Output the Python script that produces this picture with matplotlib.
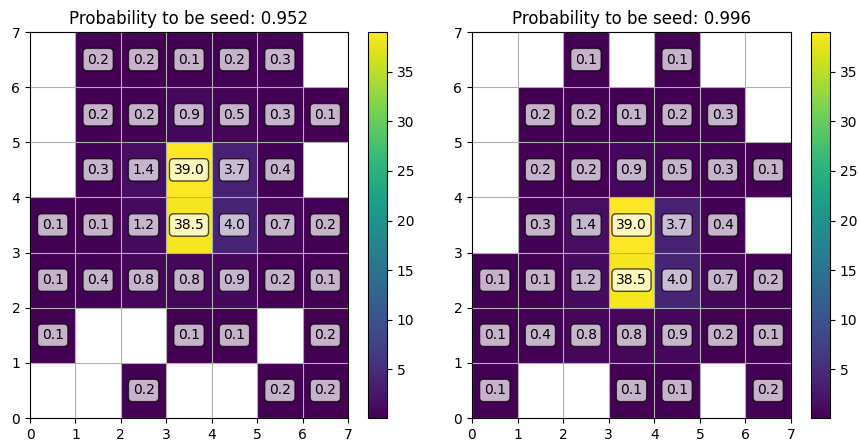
import numpy as np
import matplotlib
matplotlib.use("Agg")
import matplotlib.pyplot as plt

nan = np.nan
# rows listed from top (y=6..7) down to bottom (y=0..1)
left_vals = [
    [nan, 0.2, 0.2, 0.1, 0.2, 0.3, nan],
    [nan, 0.2, 0.2, 0.9, 0.5, 0.3, 0.1],
    [nan, 0.3, 1.4, 39.0, 3.7, 0.4, nan],
    [0.1, 0.1, 1.2, 38.5, 4.0, 0.7, 0.2],
    [0.1, 0.4, 0.8, 0.8, 0.9, 0.2, 0.1],
    [0.1, nan, nan, 0.1, 0.1, nan, 0.2],
    [nan, nan, 0.2, nan, nan, 0.2, 0.2],
]
right_vals = [
    [nan, nan, 0.1, nan, 0.1, nan, nan],
    [nan, 0.2, 0.2, 0.1, 0.2, 0.3, nan],
    [nan, 0.2, 0.2, 0.9, 0.5, 0.3, 0.1],
    [nan, 0.3, 1.4, 39.0, 3.7, 0.4, nan],
    [0.1, 0.1, 1.2, 38.5, 4.0, 0.7, 0.2],
    [0.1, 0.4, 0.8, 0.8, 0.9, 0.2, 0.1],
    [0.1, nan, nan, 0.1, 0.1, nan, 0.2],
]
titles = ["Probability to be seed: 0.952", "Probability to be seed: 0.996"]

W, H = 858, 443
fig = plt.figure(figsize=(W / 100, H / 100), dpi=100)

axes_px = [(30, 318, 368), (472, 319, 811)]
bottom, height = 25, 386

for (x0, w, cx), vals, title in zip(axes_px, [left_vals, right_vals], titles):
    ax = fig.add_axes([x0 / W, bottom / H, w / W, height / H])
    cax = fig.add_axes([cx / W, bottom / H, 19 / W, height / H])
    data = np.flipud(np.array(vals))
    m = np.ma.masked_invalid(data)
    mesh = ax.pcolormesh(np.arange(8), np.arange(8), m, cmap="viridis")
    ax.grid(True)
    ax.set_xlim(0, 7)
    ax.set_ylim(0, 7)
    ax.set_title(title, fontsize=12)
    for i in range(7):
        for j in range(7):
            v = data[i, j]
            if not np.isnan(v):
                ax.text(j + 0.5, i + 0.5, f"{v:.1f}", ha="center", va="center",
                        fontsize=10, zorder=3,
                        bbox=dict(boxstyle="round", facecolor="white",
                                  edgecolor="black", alpha=0.7))
    fig.colorbar(mesh, cax=cax)

plt.savefig("out.png")
